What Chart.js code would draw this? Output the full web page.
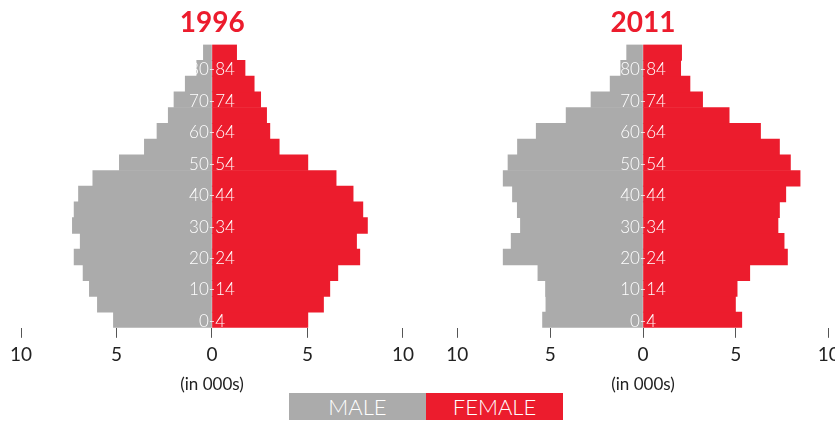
<!DOCTYPE html>
<html>
<head>
<meta charset="utf-8">
<script src="https://cdn.jsdelivr.net/npm/chart.js@4.4.1/dist/chart.umd.min.js"></script>
<style>
  html, body { margin: 0; padding: 0; background: #fff; overflow: hidden; }
  body { width: 835px; height: 424px; position: relative; font-family: Lato, "Open Sans", sans-serif; }
  .panel { position: absolute; top: 0; height: 424px; }
  #p1996 { left: 0; width: 420px; }
  #p2011 { left: 420px; width: 440px; }
  .legend { position: absolute; top: 393px; left: 289px; height: 27px; display: flex; }
  .legend div { width: 137px; height: 27px; line-height: 28px; text-align: center; color: #fff;
                font-family: Lato, sans-serif; font-weight: 300; font-size: 22px; }
  .legend .m { background: #ababab; }
  .legend .f { background: #ec1c2d; }
</style>
</head>
<body>
<div class="panel" id="p1996"><canvas id="c1996"></canvas></div>
<div class="panel" id="p2011"><canvas id="c2011"></canvas></div>
<div class="legend"><div class="m">MALE</div><div class="f">FEMALE</div></div>
<script>
// Age bands, youngest first
const ageGroups = ['0-4','5-9','10-14','15-19','20-24','25-29','30-34','35-39','40-44',
                   '45-49','50-54','55-59','60-64','65-69','70-74','75-79','80-84','85+'];

// Population in thousands
const male1996   = [5.16, 6.00, 6.42, 6.75, 7.22, 6.90, 7.31, 7.22, 6.99, 6.24, 4.85, 3.54, 2.88, 2.29, 1.99, 1.40, 0.80, 0.45];
const female1996 = [5.02, 5.84, 6.17, 6.59, 7.74, 7.57, 8.14, 7.90, 7.39, 6.50, 5.02, 3.52, 3.03, 2.86, 2.55, 2.21, 1.73, 1.29];
const male2011   = [5.41, 5.23, 5.25, 5.66, 7.53, 7.10, 6.60, 6.77, 7.03, 7.53, 7.27, 6.76, 5.75, 4.14, 2.80, 1.77, 1.20, 0.88];
const female2011 = [5.32, 4.98, 5.07, 5.75, 7.78, 7.60, 7.27, 7.35, 7.69, 8.46, 7.94, 7.35, 6.33, 4.64, 3.21, 2.53, 2.03, 2.08];

// Axis range and tick step (thousands)
const axisMin = -10;
const axisMax = 10;
const tickStep = 5;

const GREY = '#ababab';
const RED = '#ec1c2d';

// Age labels written in white along the centre line, every other band
const centreLabels = {
  id: 'centreLabels',
  afterDatasetsDraw(chart) {
    const {ctx, scales: {x, y}} = chart;
    const cx = x.getPixelForValue(0);
    ctx.save();
    ctx.font = '300 17px Lato, sans-serif';
    ctx.fillStyle = '#ffffff';
    ctx.textAlign = 'center';
    ctx.textBaseline = 'middle';
    ageGroups.forEach((g, i) => {
      if (i % 2 === 0) ctx.fillText(g, cx, y.getPixelForValue(i) + 1.5);
    });
    ctx.restore();
  }
};

function pyramid(canvasId, year, males, females, pad) {
  new Chart(document.getElementById(canvasId), {
    type: 'bar',
    data: {
      labels: ageGroups,
      datasets: [
        { label: 'MALE', data: males.map(v => -v), backgroundColor: GREY, borderWidth: 0 },
        { label: 'FEMALE', data: females, backgroundColor: RED, borderWidth: 0 }
      ]
    },
    options: {
      indexAxis: 'y',
      responsive: true,
      maintainAspectRatio: false,
      animation: false,
      barPercentage: 1,
      categoryPercentage: 1,
      layout: { padding: { left: pad.left, right: pad.right, top: 0, bottom: 29 } },
      plugins: {
        legend: { display: false },
        tooltip: { enabled: false },
        title: {
          display: true,
          text: year,
          color: RED,
          font: { family: 'Lato', weight: 'bold', size: 28, lineHeight: 1.2 },
          padding: { top: 6, bottom: 5 }
        }
      },
      scales: {
        x: {
          type: 'linear',
          min: axisMin,
          max: axisMax,
          stacked: true,
          border: { display: false },
          grid: { drawOnChartArea: false, drawTicks: true, tickLength: 10, color: '#555', tickColor: '#555' },
          ticks: {
            stepSize: tickStep,
            padding: 6,
            color: '#222',
            font: { family: 'Lato', weight: '400', size: 19, lineHeight: 1.2 },
            callback: v => Math.abs(v),
            maxRotation: 0
          },
          title: {
            display: true,
            text: '(in 000s)',
            color: '#222',
            font: { family: 'Lato', weight: '400', size: 17, lineHeight: 1.2 },
            padding: { top: 2, bottom: 0 }
          }
        },
        y: {
          type: 'category',
          stacked: true,
          reverse: true,
          display: false
        }
      }
    },
    plugins: [centreLabels]
  });
}

pyramid('c1996', '1996', male1996, female1996, { left: 21, right: 16.7 });
pyramid('c2011', '2011', male2011, female2011, { left: 37.3, right: 31.3 });
</script>
</body>
</html>
